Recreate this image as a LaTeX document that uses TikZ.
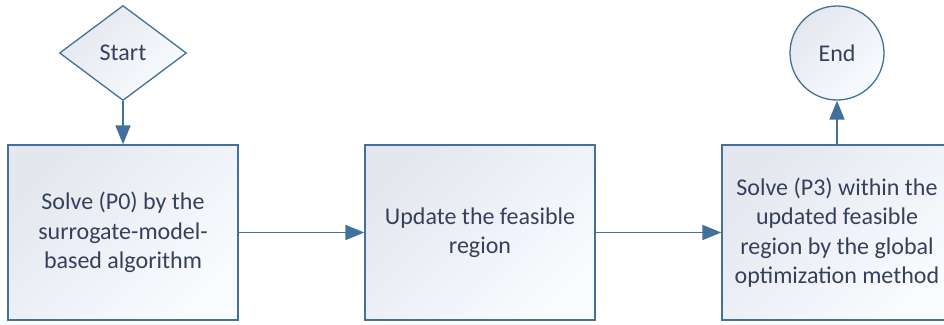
\documentclass[tikz,border=0pt]{standalone}
\usepackage{fontspec}
\setmainfont{Carlito}
\usetikzlibrary{shapes.geometric,arrows.meta}
\definecolor{edge}{HTML}{41719C}
\definecolor{txt}{HTML}{34405E}
\definecolor{fillA}{HTML}{E4E8EE}
\definecolor{fillB}{HTML}{F8FCFF}
\tikzset{
  shade/.style={top color=fillA, bottom color=fillB, shading angle=45},
  procbox/.style={draw=edge, line width=1.3pt, shade, minimum width=230pt, minimum height=175pt,
    inner sep=0pt, align=center, text=txt, font=\fontsize{24}{29.5}\selectfont},
  startshape/.style={diamond, draw=edge, line width=1.3pt, shade, minimum width=127pt, minimum height=95pt,
    inner sep=0pt, aspect=1.34, text=txt, font=\fontsize{24}{29}\selectfont},
  endshape/.style={circle, draw=edge, line width=1.3pt, shade, minimum size=94pt, inner sep=0pt,
    text=txt, font=\fontsize{24}{29}\selectfont},
  conn/.style={draw=edge, line width=1.8pt, -{Triangle[length=19pt,width=15pt]}}
}
\begin{document}
\begin{tikzpicture}[x=1pt,y=-1pt]
\useasboundingbox (0,0) rectangle (944,324);
\clip (0,0) rectangle (944,324);
\node[startshape] (start) at (123,53) {Start};
\node[endshape] (end) at (837,53) {End};
\node[procbox] (p0) at (123,232.5) {Solve (P0) by the\\surrogate-model-\\based algorithm};
\node[procbox] (upd) at (480,232.5) {Update the feasible\\region};
\node[procbox] (p3) at (837,232.5) {Solve (P3) within the\\updated feasible\\region by the global\\optimization method};
\draw[conn] (start) -- (p0);
\draw[conn] (p0) -- (upd);
\draw[conn] (upd) -- (p3);
\draw[conn] (p3) -- (end);
\end{tikzpicture}
\end{document}
